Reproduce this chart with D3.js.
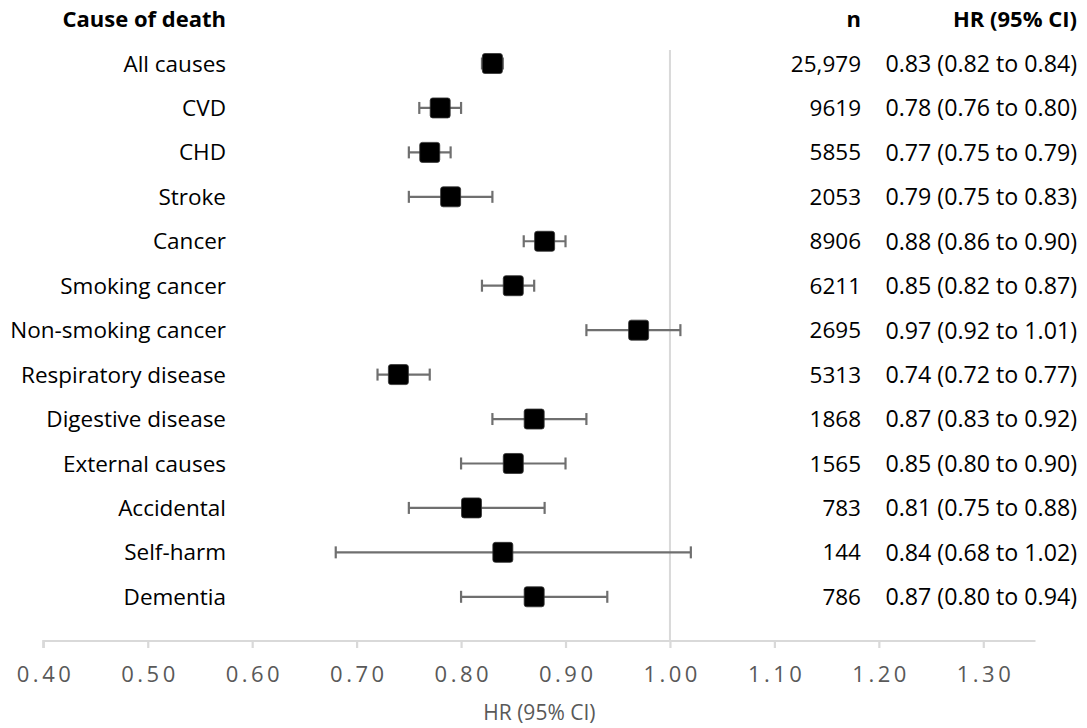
<!DOCTYPE html>
<html>
<head>
<meta charset="utf-8">
<script src="https://cdn.jsdelivr.net/npm/d3@7"></script>
<style>
  html, body { margin: 0; padding: 0; background: #fff; }
  svg { display: block; font-family: "Open Sans", "Noto Sans", sans-serif; }
</style>
</head>
<body>
<svg id="chart" width="1087" height="728"></svg>
<script>
const causes = ["All causes", "CVD", "CHD", "Stroke", "Cancer", "Smoking cancer",
  "Non-smoking cancer", "Respiratory disease", "Digestive disease", "External causes",
  "Accidental", "Self-harm", "Dementia"];
const hr =    [0.83, 0.78, 0.77, 0.79, 0.88, 0.85, 0.97, 0.74, 0.87, 0.85, 0.81, 0.84, 0.87];
const lower = [0.82, 0.76, 0.75, 0.75, 0.86, 0.82, 0.92, 0.72, 0.83, 0.80, 0.75, 0.68, 0.80];
const upper = [0.84, 0.80, 0.79, 0.83, 0.90, 0.87, 1.01, 0.77, 0.92, 0.90, 0.88, 1.02, 0.94];
const nDeaths = ["25,979", "9619", "5855", "2053", "8906", "6211", "2695", "5313", "1868", "1565", "783", "144", "786"];
const hrText = ["0.83 (0.82 to 0.84)", "0.78 (0.76 to 0.80)", "0.77 (0.75 to 0.79)", "0.79 (0.75 to 0.83)",
  "0.88 (0.86 to 0.90)", "0.85 (0.82 to 0.87)", "0.97 (0.92 to 1.01)", "0.74 (0.72 to 0.77)",
  "0.87 (0.83 to 0.92)", "0.85 (0.80 to 0.90)", "0.81 (0.75 to 0.88)", "0.84 (0.68 to 1.02)",
  "0.87 (0.80 to 0.94)"];
const xTicks = [0.40, 0.50, 0.60, 0.70, 0.80, 0.90, 1.00, 1.10, 1.20, 1.30];
const headers = { cause: "Cause of death", n: "n", hr: "HR (95% CI)" };
const axisTitle = "HR (95% CI)";

const svg = d3.select("#chart");
const x = d3.scaleLinear().domain([0.4, 1.35]).range([43.3, 1035.5]);
const y = d3.scalePoint().domain(causes).range([63.5, 596.8]);
const axisY = 641;
const refTop = 50;
const labelRight = 226, nRight = 861, hrRight = 1077;
const fs = 22.5;

// reference line at 1
svg.append("line")
  .attr("x1", x(1)).attr("x2", x(1))
  .attr("y1", refTop).attr("y2", axisY)
  .attr("stroke", "#d9d9d9").attr("stroke-width", 2);

// axis
const axis = d3.axisBottom(x).tickValues(xTicks).tickFormat(d3.format(".2f")).tickSize(7).tickSizeOuter(0);
const gAxis = svg.append("g").attr("transform", `translate(0,${axisY})`).call(axis);
gAxis.select(".domain").attr("stroke", "#d9d9d9").attr("stroke-width", 2.2)
  .attr("d", `M${x(0.4)},7V0H${x(1.35)}`);
gAxis.selectAll(".tick line").attr("stroke", "#d9d9d9").attr("stroke-width", 2.2);
gAxis.selectAll(".tick text")
  .attr("fill", "#595959")
  .attr("font-family", "'Open Sans', sans-serif")
  .attr("font-size", 22)
  .attr("letter-spacing", "3.5px")
  .attr("y", 41)
  .attr("dy", 0)
  .attr("dx", 1.75);

svg.append("text")
  .attr("x", (x(0.4) + x(1.35)) / 2).attr("y", 720)
  .attr("text-anchor", "middle").attr("fill", "#595959")
  .attr("font-size", 21).text(axisTitle);

// headers
const headY = y(causes[0]) - (y(causes[1]) - y(causes[0]));
svg.append("text").attr("x", labelRight).attr("y", headY).attr("dy", "0.36em")
  .attr("text-anchor", "end").attr("font-weight", "bold").attr("font-size", fs - 0.5).text(headers.cause);
svg.append("text").attr("x", nRight).attr("y", headY).attr("dy", "0.36em")
  .attr("text-anchor", "end").attr("font-weight", "bold").attr("font-size", fs - 0.5).text(headers.n);
svg.append("text").attr("x", hrRight).attr("y", headY).attr("dy", "0.36em")
  .attr("text-anchor", "end").attr("font-weight", "bold").attr("font-size", fs - 0.5).text(headers.hr);

const rows = svg.append("g").selectAll("g").data(causes).join("g")
  .attr("transform", d => `translate(0,${y(d)})`);

rows.append("text").attr("x", labelRight).attr("dy", "0.36em").attr("text-anchor", "end")
  .attr("font-size", fs).attr("fill", "#000").text(d => d);
rows.append("text").attr("x", nRight).attr("dy", "0.36em").attr("text-anchor", "end")
  .attr("font-size", fs).attr("fill", "#000").text((d, i) => nDeaths[i]);
rows.append("text").attr("x", hrRight).attr("dy", "0.36em").attr("text-anchor", "end")
  .attr("font-size", 23.2).attr("fill", "#000").text((d, i) => hrText[i]);

const ciCol = "#6f6f6f";
rows.append("line").attr("x1", (d, i) => x(lower[i])).attr("x2", (d, i) => x(upper[i]))
  .attr("stroke", ciCol).attr("stroke-width", 2.2);
rows.append("line").attr("x1", (d, i) => x(lower[i])).attr("x2", (d, i) => x(lower[i]))
  .attr("y1", -6).attr("y2", 6).attr("stroke", ciCol).attr("stroke-width", 2.2);
rows.append("line").attr("x1", (d, i) => x(upper[i])).attr("x2", (d, i) => x(upper[i]))
  .attr("y1", -6).attr("y2", 6).attr("stroke", ciCol).attr("stroke-width", 2.2);

const sq = 20;
rows.append("rect").attr("x", (d, i) => x(hr[i]) - sq / 2).attr("y", -sq / 2)
  .attr("width", sq).attr("height", sq).attr("rx", 2.5)
  .attr("fill", "#000").attr("stroke", "#333").attr("stroke-width", 0.8);
</script>
</body>
</html>
